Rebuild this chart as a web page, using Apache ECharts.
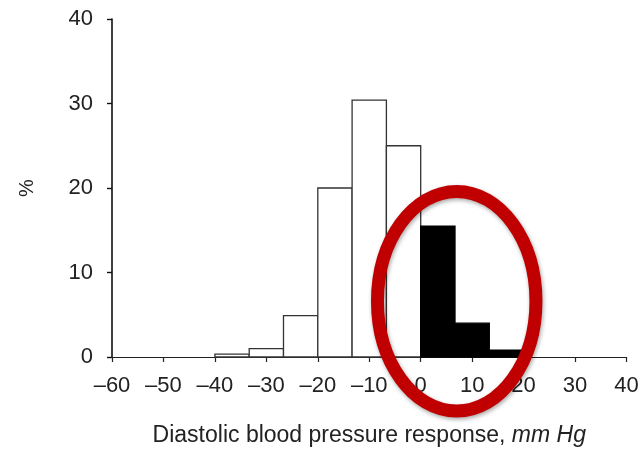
<!DOCTYPE html>
<html>
<head>
<meta charset="utf-8">
<script src="https://cdn.jsdelivr.net/npm/echarts@6/dist/echarts.min.js"></script>
<style>
  html, body { margin: 0; padding: 0; background: #fff; }
  #chart { width: 642px; height: 453px; }
</style>
</head>
<body>
<div id="chart"></div>
<script>
// Histogram bins (mm Hg) and share of patients (%) in each bin
const binEdges = [-40, -100 / 3, -80 / 3, -20, -40 / 3, -20 / 3, 0, 20 / 3, 40 / 3, 20];
const percent = [0.35, 1.0, 4.9, 20.0, 30.4, 25.0, 15.5, 4.0, 0.8];
// Bins with a rise in pressure are drawn solid
const rising = [false, false, false, false, false, false, true, true, true];
const xTicks = [-60, -50, -40, -30, -20, -10, 0, 10, 20, 30, 40];
const yTicks = [0, 10, 20, 30, 40];
// Highlight ring around the rising bins: centre and radii in data units
const ringCenter = [7.0, 6.6];
const ringRadius = [15.4, 13.0];

const FONT = '"Liberation Sans", Arial, Helvetica, sans-serif';
const binData = percent.map((p, i) => [binEdges[i], binEdges[i + 1], p, rising[i] ? 1 : 0]);

const chart = echarts.init(document.getElementById('chart'), null, { renderer: 'canvas' });

chart.setOption({
  animation: false,
  backgroundColor: '#fff',
  grid: { left: 112, right: 15.5, top: 19, bottom: 96 },
  xAxis: {
    type: 'value',
    min: xTicks[0],
    max: xTicks[xTicks.length - 1],
    interval: 10,
    name: '{n|Diastolic blood pressure response, }{i|mm Hg}',
    nameLocation: 'middle',
    nameGap: 67,
    nameTextStyle: {
      rich: {
        n: { fontFamily: FONT, fontSize: 23, color: '#222' },
        i: { fontFamily: FONT, fontSize: 23, fontStyle: 'italic', color: '#222' }
      }
    },
    splitLine: { show: false },
    axisLine: { onZero: false, lineStyle: { color: '#222', width: 1.2 } },
    axisTick: { length: 5, lineStyle: { color: '#222', width: 1.2 } },
    axisLabel: {
      margin: 18,
      fontFamily: FONT,
      fontSize: 22,
      color: '#222',
      formatter: v => (v < 0 ? '\u2013' + Math.abs(v) : String(v))
    }
  },
  yAxis: {
    type: 'value',
    min: yTicks[0],
    max: yTicks[yTicks.length - 1],
    interval: 10,
    name: '%',
    nameLocation: 'middle',
    nameGap: 75,
    nameRotate: 90,
    nameTextStyle: { fontFamily: FONT, fontSize: 20, color: '#222' },
    splitLine: { show: false },
    axisLine: { show: true, onZero: false, lineStyle: { color: '#111', width: 1.6 } },
    axisTick: { show: true, length: 5, lineStyle: { color: '#111', width: 1.4 } },
    axisLabel: { margin: 19, fontFamily: FONT, fontSize: 22, color: '#222' }
  },
  series: [{
    type: 'custom',
    data: binData,
    encode: { x: [0, 1], y: 2 },
    renderItem: function (params, api) {
      const p0 = api.coord([api.value(0), api.value(2)]);
      const p1 = api.coord([api.value(1), 0]);
      const solid = api.value(3) === 1;
      return {
        type: 'rect',
        shape: { x: p0[0], y: p0[1], width: p1[0] - p0[0], height: p1[1] - p0[1] },
        style: {
          fill: solid ? '#000' : '#fff',
          stroke: solid ? '#000' : '#333',
          lineWidth: 1.3
        }
      };
    }
  }]
});

// Red highlight ring, placed through the axes' own scales
const c = chart.convertToPixel({ gridIndex: 0 }, ringCenter);
const e = chart.convertToPixel({ gridIndex: 0 }, [ringCenter[0] + ringRadius[0], ringCenter[1] + ringRadius[1]]);
chart.setOption({
  graphic: [{
    type: 'ellipse',
    z: 100,
    shape: { cx: c[0], cy: c[1], rx: Math.abs(e[0] - c[0]), ry: Math.abs(c[1] - e[1]) },
    style: {
      fill: null,
      stroke: '#c00000',
      lineWidth: 13,
      shadowBlur: 4,
      shadowOffsetX: 1,
      shadowOffsetY: 2,
      shadowColor: 'rgba(0,0,0,0.35)'
    }
  }]
});
</script>
</body>
</html>
